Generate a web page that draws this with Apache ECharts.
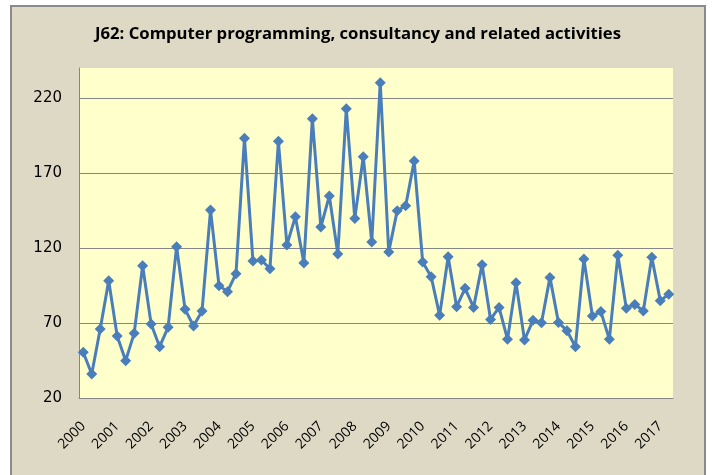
<!DOCTYPE html>
<html>
<head>
<meta charset="utf-8">
<script src="https://cdn.jsdelivr.net/npm/echarts@6/dist/echarts.min.js"></script>
<style>html,body{margin:0;padding:0;background:#fff;}#c{width:716px;height:475px;}</style>
</head>
<body>
<div id="c"></div>
<script>
var years = ['2000','2001','2002','2003','2004','2005','2006','2007','2008','2009','2010','2011','2012','2013','2014','2015','2016','2017'];
var quarters = ['Q1','Q2','Q3','Q4'];
var values = [
  50.5, 36, 66, 98.2,
  61.3, 44.9, 63.1, 108.2,
  69.3, 54.2, 67.1, 120.9,
  79.1, 68, 78, 145.3,
  94.9, 90.9, 102.9, 193.1,
  111.3, 112, 106.2, 191.1,
  122, 140.9, 110, 206.2,
  134, 154.7, 116, 212.9,
  139.6, 180.9, 124, 230.2,
  117.3, 144.9, 148.2, 178,
  110.7, 100.9, 75.1, 114.2,
  80.9, 93.1, 80.4, 108.9,
  72.4, 80.4, 59.1, 96.9,
  58.7, 71.8, 70.2, 100.4,
  70.4, 64.9, 54.2, 112.7,
  74.7, 77.6, 59.1, 115.1,
  79.8, 82.4, 78, 113.8,
  84.9, 89.1
];
var yTicks = [20, 70, 120, 170, 220];
var titleText = 'J62: Computer programming, consultancy and related activities';

var categories = [];
for (var i = 0; i < years.length; i++) {
  for (var q = 0; q < quarters.length; q++) {
    if (categories.length < values.length) categories.push(years[i] + ' ' + quarters[q]);
  }
}

var chart = echarts.init(document.getElementById('c'), null, {renderer: 'canvas'});
chart.setOption({
  backgroundColor: '#ffffff',
  animation: false,
  graphic: [{
    type: 'rect', z: -10, silent: true,
    shape: {x: 11, y: 6, width: 694, height: 475},
    style: {fill: '#DDD9C4', stroke: '#8a8a8a', lineWidth: 2}
  }],
  title: {
    text: titleText,
    left: 'center', top: 21,
    textStyle: {fontFamily: 'Open Sans', fontWeight: 'bold', fontSize: 16.7, color: '#000'}
  },
  grid: {
    left: 79, top: 68, right: 43, bottom: 77,
    show: true, backgroundColor: '#FFFFCC', borderWidth: 0
  },
  xAxis: {
    type: 'category',
    data: categories,
    boundaryGap: true,
    axisLine: {show: true, lineStyle: {color: '#868686', width: 1}},
    axisTick: {show: false},
    axisLabel: {
      interval: 3, rotate: 45, margin: 26,
      fontFamily: 'Open Sans', fontSize: 14, color: '#000',
      formatter: function (v) { return v.split(' ')[0]; }
    },
    splitLine: {show: false}
  },
  yAxis: {
    type: 'value',
    min: yTicks[0], max: 240, interval: 50,
    axisLine: {show: true, lineStyle: {color: '#868686', width: 1}},
    axisTick: {show: false},
    axisLabel: {
      showMaxLabel: false, margin: 17,
      fontFamily: 'DejaVu Sans', fontSize: 15, color: '#000'
    },
    splitLine: {show: true, showMaxLine: false, lineStyle: {color: '#868686', width: 1}}
  },
  series: [{
    type: 'line',
    data: values,
    symbol: 'diamond',
    symbolSize: 11,
    showAllSymbol: true,
    lineStyle: {color: '#4A7EBB', width: 3},
    itemStyle: {color: '#4A7EBB'}
  }]
});
</script>
</body>
</html>
